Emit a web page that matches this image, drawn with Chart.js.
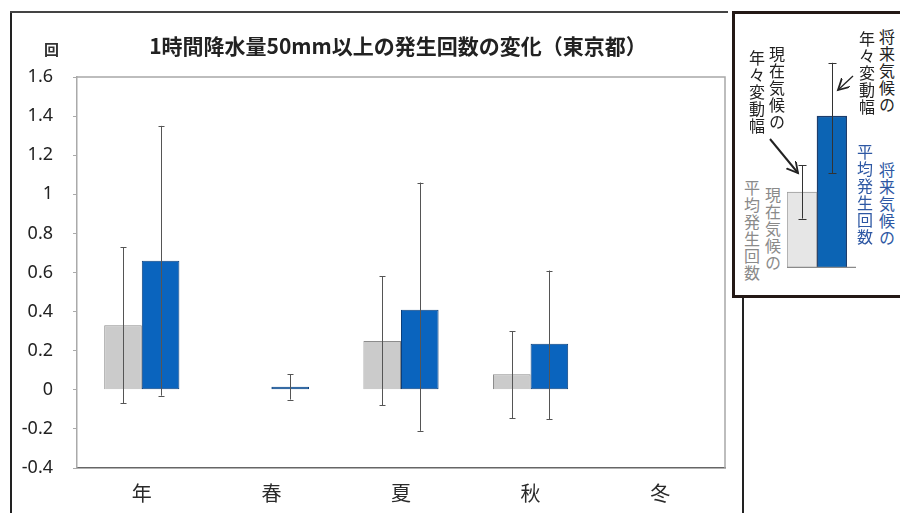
<!DOCTYPE html>
<html lang="ja">
<head>
<meta charset="utf-8">
<script src="https://cdn.jsdelivr.net/npm/chart.js@4.4.1/dist/chart.umd.min.js"></script>
<style>
  html, body { margin: 0; padding: 0; background: #fff; }
  #wrap { position: relative; width: 900px; height: 513px; overflow: hidden;
          font-family: "Noto Sans CJK JP", "Noto Sans", sans-serif; }
  canvas { position: absolute; }
  .line { position: absolute; }
  #title { position: absolute; left: 74px; width: 648px; top: 33px; text-align: center;
           font: bold 21px/24px "Noto Sans CJK JP", sans-serif; color: #222; white-space: nowrap; }
  #unit { position: absolute; left: 44px; top: 39px; font: bold 15px/20px "Noto Sans CJK JP", sans-serif; color: #333; }
  #keyBox { position: absolute; left: 732px; top: 11px; width: 180px; height: 281px;
            border: 3px solid #231815; box-sizing: content-box; }
  .vt { position: absolute; writing-mode: vertical-rl; font: 16px/16px "Noto Sans CJK JP", sans-serif;
        letter-spacing: 1px; white-space: nowrap; }
  svg { position: absolute; left: 0; top: 0; }
</style>
</head>
<body>
<div id="wrap">
  <!-- figure frame -->
  <div class="line" style="left:10px;top:11px;width:2px;height:502px;background:#222;"></div>
  <div class="line" style="left:10px;top:11px;width:718px;height:2px;background:#444;"></div>
  <div class="line" style="left:742px;top:298px;width:2px;height:215px;background:#222;"></div>

  <canvas id="main" width="730" height="513" style="left:0;top:0;"></canvas>
  <div id="title">1時間降水量50mm以上の発生回数の変化（東京都）</div>
  <div id="unit">回</div>

  <!-- key panel -->
  <div id="keyBox"></div>
  <canvas id="key" width="69" height="228" style="left:787px;top:40px;"></canvas>

  <div class="vt" style="left:879px;top:29px;color:#222;">将来気候の</div>
  <div class="vt" style="left:859px;top:31px;color:#222;">年々変動幅</div>
  <div class="vt" style="left:769px;top:46px;color:#222;">現在気候の</div>
  <div class="vt" style="left:749px;top:50px;color:#222;">年々変動幅</div>
  <div class="vt" style="left:765px;top:187px;color:#8a8a8a;">現在気候の</div>
  <div class="vt" style="left:744px;top:180px;color:#8a8a8a;">平均発生回数</div>
  <div class="vt" style="left:879px;top:162px;color:#2d57a3;">将来気候の</div>
  <div class="vt" style="left:857px;top:144px;color:#2d57a3;">平均発生回数</div>

  <svg width="900" height="513">
    <defs>
      <marker id="head" markerUnits="userSpaceOnUse" markerWidth="14" markerHeight="14"
              refX="11" refY="6" orient="auto">
        <path d="M0,0 L11,6 L0,12" fill="none" stroke="#222" stroke-width="1.8"/>
      </marker>
    </defs>
    <line x1="770" y1="139" x2="798" y2="173" stroke="#222" stroke-width="2" marker-end="url(#head)"/>
    <line x1="853" y1="76" x2="838" y2="90" stroke="#222" stroke-width="1.3" marker-end="url(#head)"/>
  </svg>
</div>

<script>
// Heavy-rain (>= 50 mm/h) occurrences per year, Tokyo: present vs future climate
const categories   = ['年', '春', '夏', '秋', '冬'];
const presentMean  = [0.33, 0, 0.25, 0.08, 0];
const futureMean   = [0.66, 0.015, 0.41, 0.235, 0];
const presentHigh  = [0.73, null, 0.58, 0.30, null];
const presentLow   = [-0.07, null, -0.08, -0.145, null];
const futureHigh   = [1.35, 0.08, 1.06, 0.61, null];
const futureLow    = [-0.03, -0.05, -0.21, -0.15, null];
const yTicks       = [-0.4, -0.2, 0, 0.2, 0.4, 0.6, 0.8, 1, 1.2, 1.4, 1.6];

// Key panel: schematic mean and year-to-year range
const keyCategories   = [''];
const keyPresentMean  = [1.0];
const keyFutureMean   = [2.0];
const keyPresentHigh  = [1.35];
const keyPresentLow   = [0.65];
const keyFutureHigh   = [2.7];
const keyFutureLow    = [1.25];

// Vertical range bars with caps, one per bar element
function rangeBars(ranges, color, cap) {
  return {
    id: 'rangeBars',
    afterDatasetsDraw(chart) {
      const ctx = chart.ctx;
      const y = chart.scales.y;
      ctx.save();
      ctx.strokeStyle = color;
      ctx.lineWidth = 1;
      ranges.forEach((r, d) => {
        const meta = chart.getDatasetMeta(d);
        meta.data.forEach((bar, i) => {
          const hi = r.high[i], lo = r.low[i];
          if (hi == null || lo == null) return;
          const x = Math.round(bar.x) + 0.5;
          const y1 = y.getPixelForValue(hi), y2 = y.getPixelForValue(lo);
          ctx.beginPath();
          ctx.moveTo(x, y1); ctx.lineTo(x, y2);
          ctx.moveTo(x - cap, Math.round(y1) + 0.5); ctx.lineTo(x + cap, Math.round(y1) + 0.5);
          ctx.moveTo(x - cap, Math.round(y2) + 0.5); ctx.lineTo(x + cap, Math.round(y2) + 0.5);
          ctx.stroke();
        });
      });
      ctx.restore();
    }
  };
}

// Frame around the plot area (top and right edges)
const plotFrame = {
  id: 'plotFrame',
  beforeDatasetsDraw(chart) {
    const a = chart.chartArea, ctx = chart.ctx;
    ctx.save();
    ctx.strokeStyle = '#a8a8a8';
    ctx.lineWidth = 1.5;
    ctx.beginPath();
    ctx.moveTo(a.left, a.top); ctx.lineTo(a.right, a.top); ctx.lineTo(a.right, a.bottom);
    ctx.stroke();
    ctx.restore();
  }
};

new Chart(document.getElementById('main'), {
  type: 'bar',
  data: {
    labels: categories,
    datasets: [
      { label: '現在気候', data: presentMean, backgroundColor: '#cbcbcb', borderColor: '#8c8c8c',
        borderWidth: 1 },
      { label: '将来気候', data: futureMean, backgroundColor: '#0a64be', borderColor: '#0a3f7c',
        borderWidth: 1, borderSkipped: false }
    ]
  },
  options: {
    responsive: false,
    animation: false,
    layout: { padding: { top: 77, right: 5, left: 0, bottom: 0 } },
    datasets: { bar: { categoryPercentage: 0.58, barPercentage: 1.0 } },
    plugins: { legend: { display: false }, title: { display: false }, tooltip: { enabled: false } },
    scales: {
      x: {
        grid: { display: false, drawTicks: false },
        border: { display: true, color: '#666', width: 1.5 },
        ticks: { color: '#2a2a2a', font: { family: '"Noto Sans CJK JP"', size: 20 }, padding: 13 },
        afterFit(s) { s.height = 45; }
      },
      y: {
        min: -0.4, max: 1.6,
        afterBuildTicks(s) { s.ticks = yTicks.map(v => ({ value: v })); },
        grid: { drawOnChartArea: false, drawTicks: true, tickLength: 4, tickColor: '#aaa' },
        border: { display: true, color: '#aaa', width: 1.5 },
        ticks: { color: '#222', font: { family: '"Noto Sans"', size: 18 }, padding: 20,
                 callback: v => String(v) },
        afterFit(s) { s.width = 77; }
      }
    }
  },
  plugins: [plotFrame, rangeBars([
    { high: presentHigh, low: presentLow },
    { high: futureHigh, low: futureLow }
  ], '#555', 3)]
});

// Key panel base line
const keyBase = {
  id: 'keyBase',
  afterDatasetsDraw(chart) {
    const a = chart.chartArea, ctx = chart.ctx;
    ctx.save();
    ctx.strokeStyle = '#8a8a8a';
    ctx.lineWidth = 1.5;
    ctx.beginPath();
    ctx.moveTo(a.left, a.bottom - 0.5); ctx.lineTo(a.right + 9, a.bottom - 0.5);
    ctx.stroke();
    ctx.restore();
  }
};

new Chart(document.getElementById('key'), {
  type: 'bar',
  data: {
    labels: keyCategories,
    datasets: [
      { data: keyPresentMean, backgroundColor: '#e6e6e6', borderColor: '#9a9a9a', borderWidth: 1 },
      { data: keyFutureMean, backgroundColor: '#0c64b4', borderColor: '#1d3d6c', borderWidth: 1.5 }
    ]
  },
  options: {
    responsive: false,
    animation: false,
    layout: { padding: { top: 0, right: 9, left: 0, bottom: 0 } },
    datasets: { bar: { categoryPercentage: 1, barPercentage: 1 } },
    plugins: { legend: { display: false }, tooltip: { enabled: false } },
    scales: {
      x: { display: false },
      y: { display: false, min: 0, max: 3 }
    }
  },
  plugins: [keyBase, rangeBars([
    { high: keyPresentHigh, low: keyPresentLow },
    { high: keyFutureHigh, low: keyFutureLow }
  ], '#333', 4)]
});
</script>
</body>
</html>
